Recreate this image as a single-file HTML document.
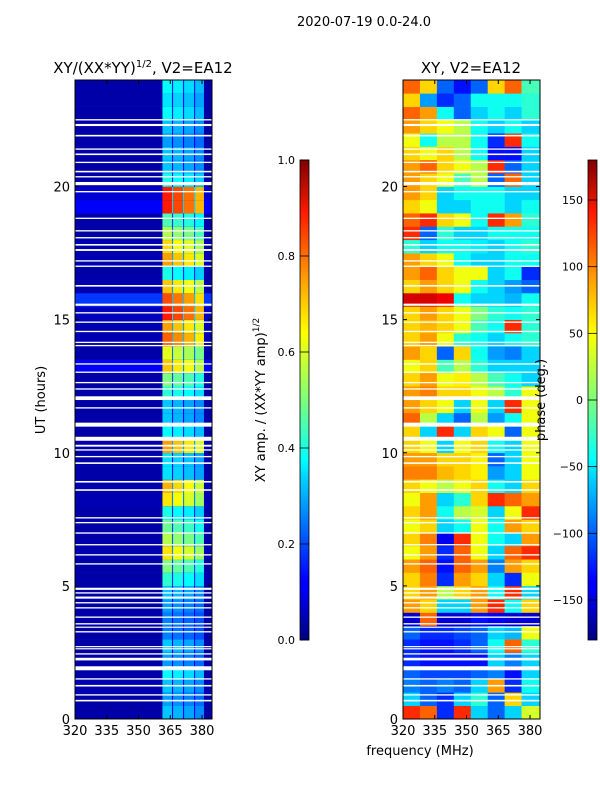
<!DOCTYPE html>
<html><head><meta charset="utf-8">
<style>
html,body{margin:0;padding:0;background:#fff;}
svg{display:block;font-family:"DejaVu Sans","Liberation Sans",sans-serif;}
</style></head>
<body>
<svg id="fig" width="600" height="800" viewBox="0 0 600 800">
<defs>
<linearGradient id="jet" x1="0" y1="1" x2="0" y2="0">
<stop offset="0" stop-color="#00007f"/><stop offset="0.11" stop-color="#0000ff"/>
<stop offset="0.125" stop-color="#0000ff"/><stop offset="0.34" stop-color="#00d4ff"/>
<stop offset="0.375" stop-color="#00ffff"/>
<stop offset="0.5" stop-color="#7dff7a"/><stop offset="0.64" stop-color="#ffff00"/>
<stop offset="0.75" stop-color="#ffa000"/><stop offset="0.89" stop-color="#ff1a00"/>
<stop offset="1" stop-color="#7f0000"/>
</linearGradient>
</defs>
<text x="364" y="26" font-size="13" text-anchor="middle">2020-07-19 0.0-24.0</text>
<text x="143" y="73" font-size="15" text-anchor="middle">XY/(XX*YY)<tspan font-size="10" dy="-6">1/2</tspan><tspan dy="6">, V2=EA12</tspan></text>
<text x="471" y="73" font-size="15" text-anchor="middle">XY, V2=EA12</text>
<g id="left"></g>
<g id="right"></g>
<g id="axes"></g>
<text transform="translate(45,400) rotate(-90)" font-size="13" text-anchor="middle">UT (hours)</text>
<text x="420" y="755" font-size="13" text-anchor="middle">frequency (MHz)</text>
<text transform="translate(265,400) rotate(-90)" font-size="13" text-anchor="middle">XY amp. / (XX*YY amp)<tspan font-size="9" dy="-6">1/2</tspan></text>
<text transform="translate(545,400) rotate(-90)" font-size="13" text-anchor="middle">phase (deg.)</text>
</svg>
<script>
const yTicks=[0,5,10,15,20];
const xTicks=[320,335,350,365,380];
const ampTicks=[0.0,0.2,0.4,0.6,0.8,1.0];
const phaseTicks=[-150,-100,-50,0,50,100,150];
// high band amplitude per half-hour row (0..24 UT)
const bandAmp=[0.32,0.28,0.32,0.38,0.28,0.32,0.25,0.25,0.28,0.32,0.42,0.5,0.65,0.55,0.48,0.4,0.65,0.7,0.35,0.35,0.72,0.38,0.32,0.32,0.42,0.5,0.68,0.6,0.78,0.72,0.85,0.8,0.68,0.4,0.72,0.66,0.55,0.45,0.85,0.85,0.4,0.32,0.32,0.28,0.32,0.38,0.35,0.38];
const subbandFactor=[1.0,0.95,0.9,0.82];
const lowAmp=[0.04,0.04,0.05,0.04,0.04,0.04,0.04,0.04,0.04,0.04,0.04,0.04,0.05,0.04,0.04,0.04,0.05,0.05,0.04,0.04,0.05,0.04,0.04,0.04,0.04,0.04,0.12,0.04,0.05,0.05,0.06,0.18,0.05,0.04,0.05,0.05,0.04,0.04,0.12,0.08,0.04,0.04,0.04,0.04,0.04,0.04,0.04,0.04];
const subbands=[[361.3,365.8],[366.3,371.0],[371.5,376.2],[376.7,380.9]];
const freqBins=[320,328,336,344,352,360,368,376,384.7];
const phase=[
[120,100,-120,120,-60,-100,-60,30],[-60,-100,-120,-60,-30,-100,60,-60],[-90,-100,-90,-100,-60,80,-120,-40],[-100,-110,-110,-110,-100,-90,-130,-60],
[-120,-130,-130,-130,-130,-60,-90,-60],[-120,-130,-130,-120,-100,-40,100,-30],[-100,-120,-120,-110,-100,-60,-70,40],[-150,100,-150,-150,-130,-140,-150,-150],
[80,60,-60,-60,80,120,-40,60],[60,80,20,60,80,-40,120,-60],[60,90,-120,80,60,-60,-120,40],[80,100,-130,100,80,-90,80,60],
[40,80,-120,100,40,-60,100,120],[60,90,-140,120,40,-40,-60,80],[40,60,-60,-40,40,-40,80,60],[60,80,-40,20,30,-60,40,120],
[40,80,-60,-30,60,120,100,80],[60,40,20,40,60,-40,-60,60],[90,90,70,60,50,-80,-60,40],[80,80,60,60,50,-100,-60,40],
[60,40,-60,40,60,-40,-60,40],[60,-60,120,-60,60,40,-100,40],[100,20,-60,-100,20,-80,-40,40],[80,60,40,-60,40,-60,120,40],
[80,90,60,60,40,20,-30,40],[60,80,40,50,20,-20,-40,-60],[40,60,-20,20,-30,-60,-60,-60],[80,60,-100,60,-40,-80,-90,-60],
[60,80,40,-30,-40,-60,-40,-30],[60,70,60,40,-20,-40,120,-30],[60,80,60,40,0,-30,-40,-30],[150,150,140,-40,-60,-60,-70,-40],
[60,80,60,40,-40,-60,-80,-100],[80,100,60,40,40,-60,-40,-120],[80,60,40,-40,-60,-60,-40,-40],[-30,-60,-40,-40,-50,-60,-40,-30],
[120,-100,-30,-60,-60,-40,-40,-40],[100,120,60,40,-40,120,80,-30],[60,40,-60,-60,-40,-40,-60,-40],[80,60,-60,-40,-40,-40,-60,-60],
[80,60,40,-20,20,-100,100,-60],[80,100,60,40,20,120,-100,-60],[60,40,60,20,-40,-130,-130,-60],[40,-40,20,20,-40,-120,120,-40],
[80,60,40,20,-40,-60,-40,-60],[100,80,-40,-100,-60,-40,-60,-30],[60,-80,-120,-100,-40,-40,-40,-30],[100,60,-100,-130,-100,60,100,-20]];
// flagged (blank) UT intervals [start,end] hours
const flags=[[0.66,0.72],[0.88,0.93],[1.22,1.28],[1.48,1.53],[1.83,1.98],[2.2,2.3],[2.42,2.47],[2.62,2.66],[2.7,2.74],[3.25,3.3],[3.43,3.47],[3.55,3.6],[3.8,3.85],[4.15,4.2],[4.34,4.39],[4.52,4.6],[4.71,4.76],[4.85,4.93],[5.8,5.85],[6.14,6.19],[6.52,6.57],[6.96,7.01],[7.35,7.4],[7.53,7.58],[8.57,8.63],[8.88,8.94],[9.58,9.64],[9.83,9.88],[10.08,10.13],[10.23,10.3],[10.45,10.6],[10.98,11.13],[11.66,11.71],[11.98,12.12],[12.37,12.42],[12.61,12.66],[13.0,13.05],[13.31,13.36],[14.0,14.05],[14.12,14.17],[14.53,14.58],[14.88,14.93],[15.23,15.28],[15.52,15.6],[16.24,16.3],[16.98,17.03],[17.18,17.23],[17.58,17.65],[17.78,17.84],[18.05,18.1],[18.31,18.36],[18.78,18.83],[19.78,19.83],[20.05,20.17],[20.34,20.39],[20.53,20.59],[20.88,20.93],[21.18,21.24],[21.38,21.43],[21.88,21.94],[22.27,22.35],[22.48,22.53]];

const NS="http://www.w3.org/2000/svg";
function mk(tag,attrs,parent){const e=document.createElementNS(NS,tag);for(const k in attrs)e.setAttribute(k,attrs[k]);parent.appendChild(e);return e;}
function jet(t){t=Math.max(0,Math.min(1,t));const c=v=>Math.round(255*Math.max(0,Math.min(1,v)));
return `rgb(${c(1.5-Math.abs(4*t-3))},${c(1.5-Math.abs(4*t-2))},${c(1.5-Math.abs(4*t-1))})`;}
const Y0=719,Y1=80,FMIN=320,FMAX=384.7;
const yS=h=>Y0+(Y1-Y0)*h/24;
const xL=f=>75+(212-75)*(f-FMIN)/(FMAX-FMIN);
const xR=f=>403+(540-403)*(f-FMIN)/(FMAX-FMIN);
const L=document.getElementById('left'),R=document.getElementById('right'),A=document.getElementById('axes');
const rowH=0.5;
bandAmp.forEach((a,i)=>{
  const y1=yS(i*rowH+rowH),y0=yS(i*rowH);
  let r=mk('rect',{x:xL(FMIN),y:y1,width:xL(FMAX)-xL(FMIN),height:y0-y1+0.3,fill:jet(lowAmp[i])},L);
  
  
  subbands.forEach((sb,j)=>{
    const c=mk('rect',{x:xL(sb[0]),y:y1,width:xL(sb[1])-xL(sb[0]),height:y0-y1+0.3,fill:jet(a*subbandFactor[j])},L);
    
    
  });
  for(let j=0;j<subbands.length-1;j++){
    const g=mk('rect',{x:xL(subbands[j][1]),y:y1,width:xL(subbands[j+1][0])-xL(subbands[j][1]),height:y0-y1+0.3,fill:jet(a*0.4)},L);
    
    
  }
});
phase.forEach((row,i)=>{
  const y1=yS(i*rowH+rowH),y0=yS(i*rowH);
  row.forEach((p,j)=>{
    const c=mk('rect',{x:xR(freqBins[j]),y:y1,width:xR(freqBins[j+1])-xR(freqBins[j])+0.3,height:y0-y1+0.3,fill:jet((p+180)/360)},R);
    
    
  });
});
flags.forEach(f=>{
  [[xL,L],[xR,R]].forEach(([xs,g])=>{
    const r=mk('rect',{x:xs(FMIN),y:yS(f[1]),width:xs(FMAX)-xs(FMIN),height:Math.max(1.2,yS(f[0])-yS(f[1])),fill:'#fff'},g);
    
    
  });
});
[[xL,75],[xR,403]].forEach(([xs,x0],k)=>{
  const fr=mk('rect',{x:x0,y:Y1,width:137,height:Y0-Y1,fill:'none',stroke:'#000','stroke-width':1},A);
  
  
  yTicks.forEach(t=>{
    const y=yS(t);
    mk('line',{x1:x0,x2:x0+4,y1:y,y2:y,stroke:'#000'},A);
    mk('line',{x1:x0+137,x2:x0+133,y1:y,y2:y,stroke:'#000'},A);
    const tx=mk('text',{x:x0-5,y:y+5,'font-size':13,'text-anchor':'end'},A);tx.textContent=t;
    
    
  });
  xTicks.forEach(t=>{
    const x=xs(t);
    mk('line',{x1:x,x2:x,y1:Y0,y2:Y0-4,stroke:'#000'},A);
    mk('line',{x1:x,x2:x,y1:Y1,y2:Y1+4,stroke:'#000'},A);
    const tx=mk('text',{x:x,y:Y0+16,'font-size':13,'text-anchor':'middle'},A);tx.textContent=t;
    
    
  });
});
const CB0=640,CB1=160;
[[300,ampTicks,v=>v,v=>v.toFixed(1),'amp-colorbar'],[588,phaseTicks,v=>(v+180)/360,v=>(v<0?'\u2212'+(-v):''+v),'phase-colorbar']].forEach(([x,ticks,norm,fmt,name])=>{
  const r=mk('rect',{x:x,y:CB1,width:9,height:CB0-CB1,fill:'url(#jet)',stroke:'#000','stroke-width':0.8},A);
  
  
  ticks.forEach(t=>{
    const y=CB0+(CB1-CB0)*norm(t);
    mk('line',{x1:x,x2:x+9,y1:y,y2:y,stroke:'#000','stroke-width':0.8},A);
    const tx=mk('text',{x:x-5,y:y+4,'font-size':11,'text-anchor':'end'},A);tx.textContent=fmt(t);
    
    
  });
});
</script>
</body></html>
